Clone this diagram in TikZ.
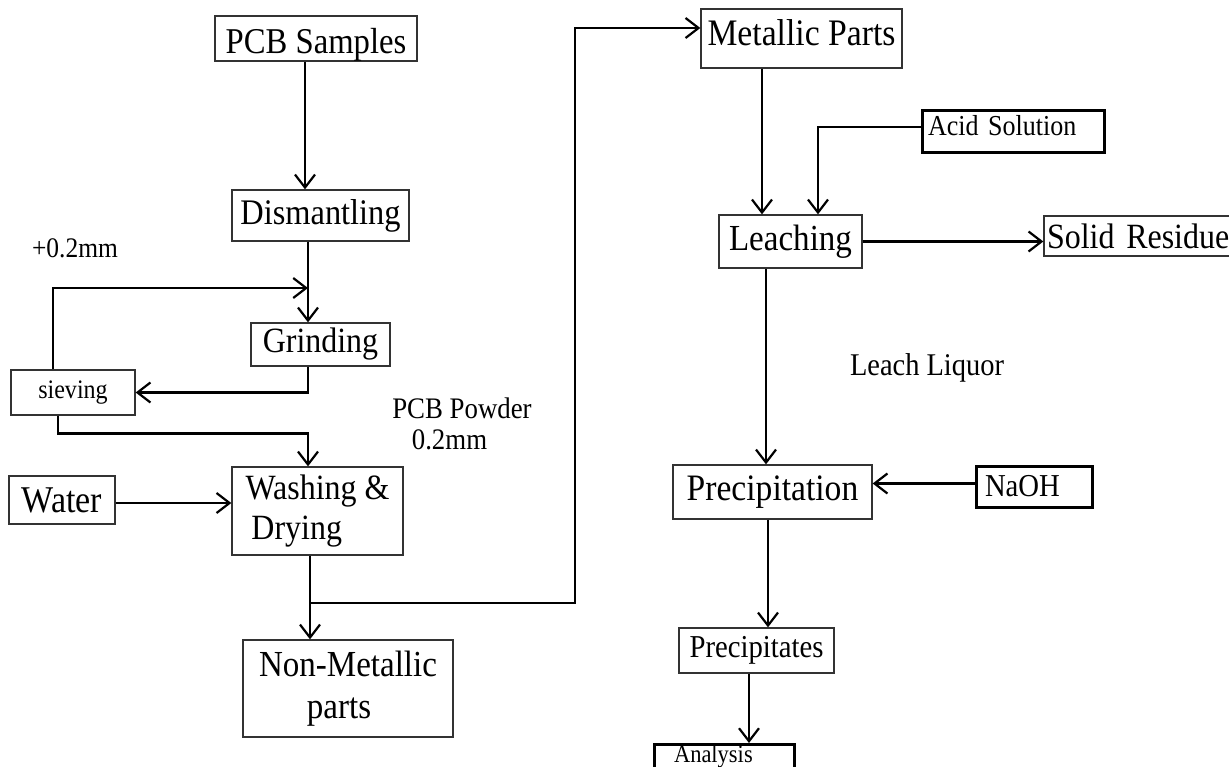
\documentclass[tikz,border=0pt]{standalone}
\usepackage{fontspec}
\setmainfont{Liberation Serif}[FakeStretch=0.9]
\usetikzlibrary{arrows.meta}
\newcommand{\fsz}[1]{\fontsize{#1}{42}\selectfont}
\begin{document}
\begin{tikzpicture}[x=1pt,y=-1pt,
  box/.style={draw=black!80, line width=1.3pt, inner sep=0pt, fill=white},
  heavybox/.style={draw=black, line width=3pt, inner sep=0pt, fill=white},
  conn/.style={line width=2.8pt, -{Straight Barb[length=13pt,width=20pt,line width=2.2pt]}},
  lbl/.style={inner sep=0pt}]
\useasboundingbox (0,0) rectangle (1229,766);
\clip (0,0) rectangle (1229,766);
\fill[white] (0,0) rectangle (1229,766);

% left column
\node[box, minimum width=202pt, minimum height=45pt, font=\fsz{36.3}, text height=33pt, text depth=4pt] (pcb) at (316,38.5) {PCB Samples};
\node[box, minimum width=177pt, minimum height=51pt, font=\fsz{36}] (dism) at (320.5,215.5) {Dismantling};
\node[box, minimum width=139pt, minimum height=43pt, font=\fsz{35.5}] (grind) at (320.5,344.5) {Grinding};
\node[box, minimum width=124pt, minimum height=45pt, font=\fsz{26.7}] (siev) at (73,392.5) {sieving};
\node[lbl, font=\fsz{28.3}] (plus) at (75,248) {+0.2mm};
\node[box, minimum width=106pt, minimum height=48pt, font=\fsz{37.8}] (water) at (62,500) {Water};
\node[box, minimum width=171pt, minimum height=88pt, font=\fsz{35.5}, align=left] (wash) at (317.5,511) {Washing \&\\[-2pt]\,Drying};
\node[box, minimum width=210pt, minimum height=97pt, font=\fsz{36.7}, align=center] (nonmet) at (348,688.5) {Non-Metallic\\parts\hspace*{18pt}};
\node[lbl, font=\fsz{29.8}] (pw1) at (462,408) {PCB Powder};
\node[lbl, font=\fsz{29.8}] (pw2) at (449.5,440) {0.2mm};

% right column
\node[box, minimum width=201pt, minimum height=59pt, font=\fsz{37.4}, text depth=12pt] (metal) at (801.5,38.5) {Metallic Parts};
\node[heavybox, minimum width=182pt, minimum height=42pt, font=\fsz{28.9}, inner xsep=6pt, text width=170pt, align=left, text depth=11.7pt] (acid) at (1013,131) {Acid Solution};
\node[box, minimum width=143pt, minimum height=53pt, font=\fsz{36.7}] (lea) at (790.5,241.5) {Leaching};
\node[box, minimum width=196pt, minimum height=40pt, font=\fsz{35.5}, inner xsep=3pt, text width=190pt, align=left] (solid) at (1142,236) {Solid Residue};
\node[lbl, font=\fsz{31.6}] (liquor) at (927,368) {Leach Liquor};
\node[box, minimum width=199pt, minimum height=54pt, font=\fsz{37.3}] (precip) at (772.5,492) {Precipitation};
\node[heavybox, minimum width=116pt, minimum height=41pt, font=\fsz{31.9}, inner xsep=9pt, text width=98pt, align=left] (naoh) at (1034,486.5) {NaOH};
\node[box, minimum width=155pt, minimum height=45pt, font=\fsz{31.9}] (precs) at (756.5,650.5) {Precipitates};
\node[heavybox, anchor=north, minimum width=140pt, font=\fsz{25}, inner xsep=20pt, text width=100pt, align=left, text height=18pt, text depth=40pt] (anal) at (724,743) {Analysis};

% junction coordinates
\coordinate (j1) at (308,288);
\coordinate (j2) at (310,603);
\coordinate (j3) at (575,28);

% connectors
\draw[conn] ([xshift=-11pt]pcb.south) -- ([xshift=-15.5pt]dism.north);
\draw[conn] ([xshift=-20pt]siev.north) |- (j1);
\draw[conn] ([xshift=-12.5pt]dism.south) -- ([xshift=-12.5pt]grind.north);
\draw[conn] ([xshift=-12.5pt]grind.south) |- (siev.east);
\draw[conn] ([xshift=-15pt]siev.south) -- ++(0,18) -| ([xshift=-9.5pt]wash.north);
\draw[conn] ([yshift=-3pt]water.east) -- ([yshift=-3pt]water.east -| wash.west);
\draw[conn] ([xshift=-7.5pt]wash.south) -- ([xshift=-7.5pt]wash.south |- nonmet.north);
\draw[conn] (j2) -| (j3) -- (j3 -| metal.west);
\draw[conn] ([xshift=-39.5pt]metal.south) -- ([xshift=-39.5pt]metal.south |- lea.north);
\draw[conn] ([yshift=4pt]acid.west) -| ([xshift=27.5pt]lea.north);
\draw[conn] (lea.east) -- (lea.east -| solid.west);
\draw[conn] ([xshift=-24.5pt]lea.south) -- ([xshift=-24.5pt]lea.south |- precip.north);
\draw[conn] ([yshift=3pt]naoh.west) -- ([yshift=3pt]naoh.west -| precip.east);
\draw[conn] ([xshift=-4.5pt]precip.south) -- ([xshift=-4.5pt]precip.south |- precs.north);
\draw[conn] ([xshift=-7.5pt]precs.south) -- ([xshift=-7.5pt]precs.south |- anal.north);
\end{tikzpicture}
\end{document}
